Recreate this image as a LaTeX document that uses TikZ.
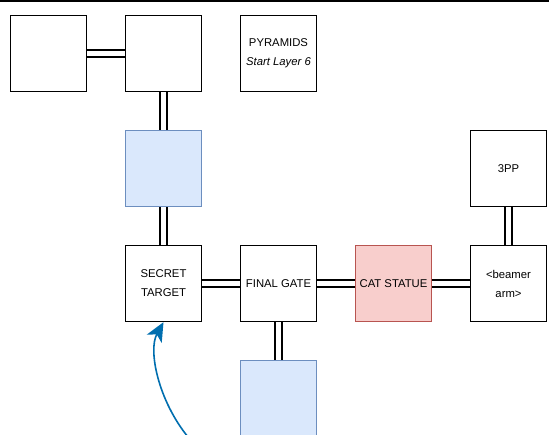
\documentclass[tikz,border=0pt]{standalone}
\usepackage{fontspec}
\setmainfont{Liberation Sans}
\usetikzlibrary{arrows.meta}
\definecolor{bluefill}{HTML}{DAE8FC}
\definecolor{bluedraw}{HTML}{6C8EBF}
\definecolor{redfill}{HTML}{F8CECC}
\definecolor{reddraw}{HTML}{B85450}
\definecolor{arrowblue}{HTML}{006EAF}
\tikzset{
  room/.style={draw=black, line width=1.3pt, fill=white, minimum width=76pt, minimum height=76pt, inner sep=0pt, align=center, font=\fontsize{11.3}{19}\selectfont},
  bluebox/.style={room, draw=bluedraw, fill=bluefill, line width=1.5pt},
  redbox/.style={room, draw=reddraw, fill=redfill, line width=1.5pt},
  link/.style={draw=black, line width=1.3pt, double=white, double distance=5.6pt},
  curvearrow/.style={draw=arrowblue, line width=1.6pt, -{Stealth[length=19pt,width=17pt,inset=5pt]}}
}
\begin{document}
\begin{tikzpicture}[x=1pt,y=-1pt]
\useasboundingbox (0,0) rectangle (549,435);
\clip (0,0) rectangle (549,435);
\draw[line width=2pt] (0,1) -- (549,1);
% nodes
\node[room] (a) at (48.5,53.5) {};
\node[room] (b) at (163.5,53.5) {};
\node[room] (pyr) at (278.5,53.5) {PYRAMIDS\\\textit{Start Layer 6}};
\node[bluebox] (blue1) at (163.5,168.5) {};
\node[room] (pp) at (508.5,168.5) {3PP};
\node[room] (secret) at (163.5,283.5) {SECRET\\TARGET};
\node[room] (final) at (278.5,283.5) {FINAL GATE};
\node[redbox] (cat) at (393.5,283.5) {CAT STATUE};
\node[room] (beamer) at (508.5,283.5) {<beamer\\arm>};
\node[bluebox] (blue2) at (278.5,398.5) {};
% links
\draw[link] (a) -- (b);
\draw[link] (b) -- (blue1);
\draw[link] (blue1) -- (secret);
\draw[link] (secret) -- (final);
\draw[link] (final) -- (cat);
\draw[link] (cat) -- (beamer);
\draw[link] (pp) -- (beamer);
\draw[link] (final) -- (blue2);
% arrow
\coordinate (start) at (188,437);
\draw[curvearrow] (start) .. controls (158,400) and (148,350) .. (secret.south);
\end{tikzpicture}
\end{document}
